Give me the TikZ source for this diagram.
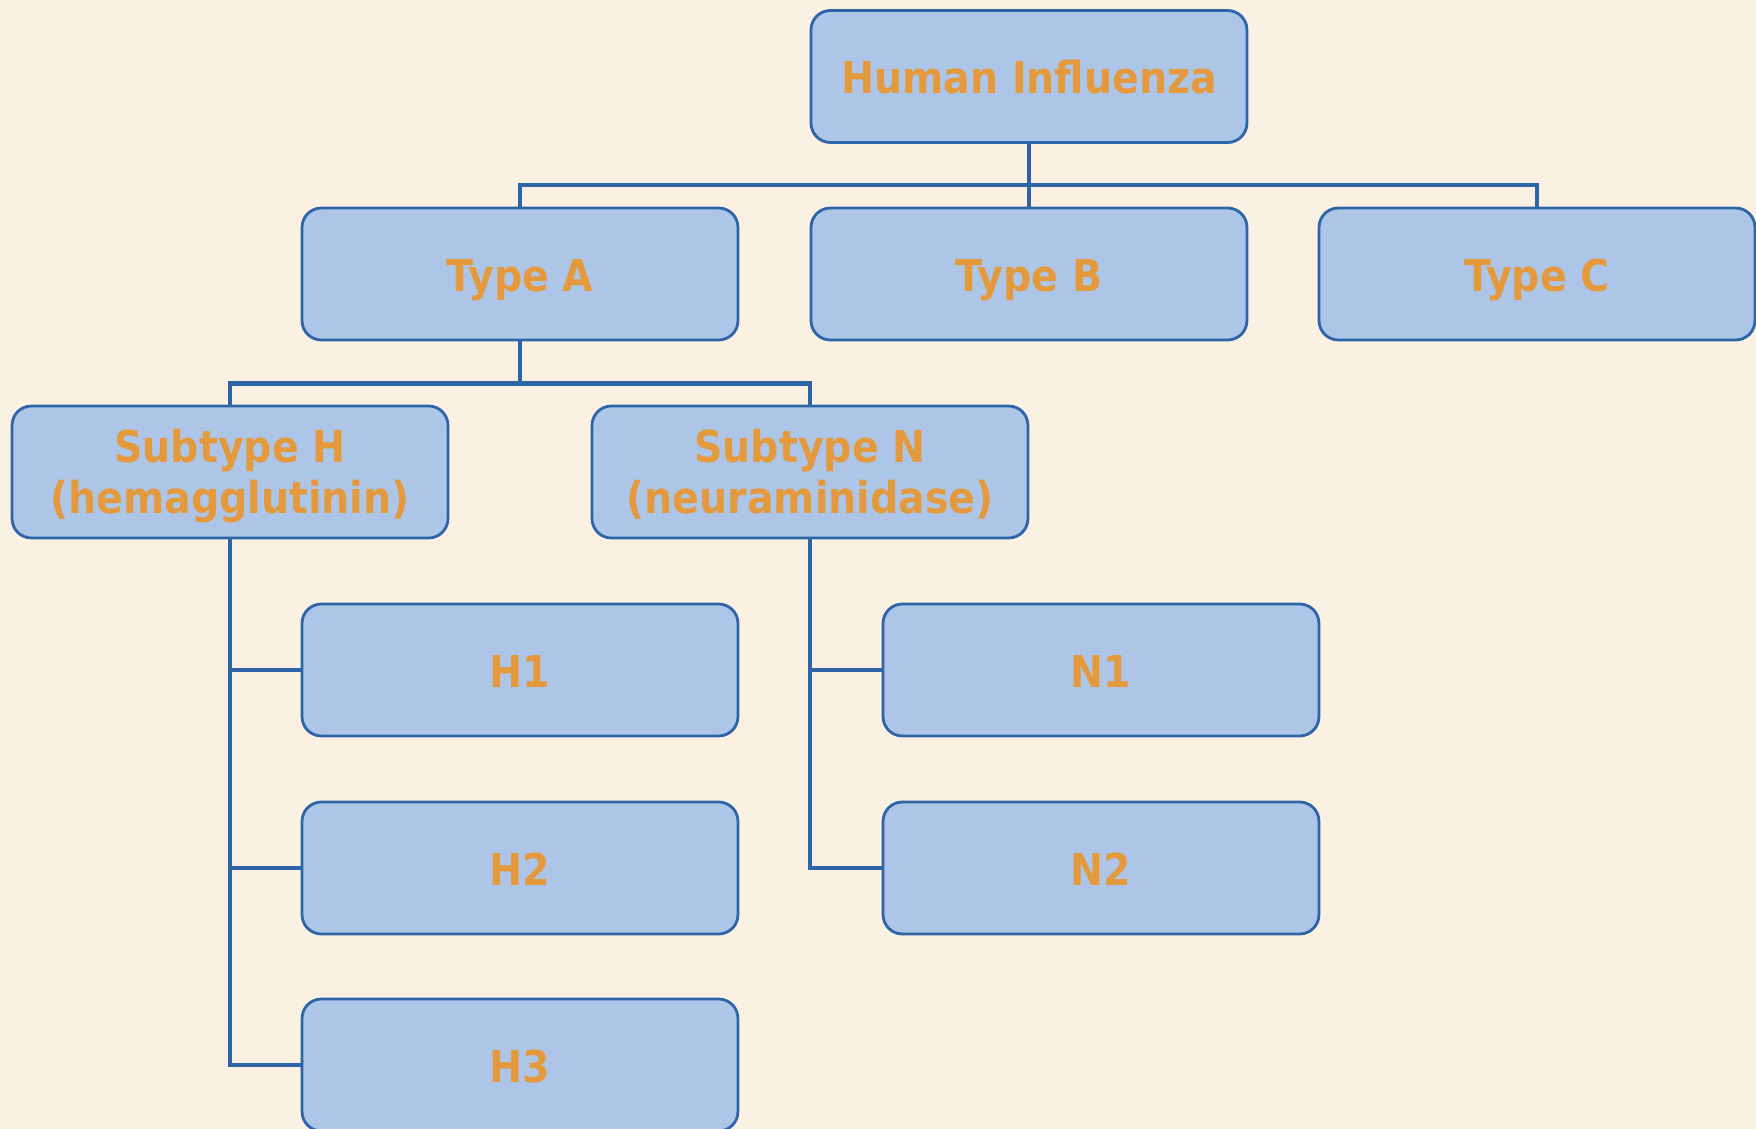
\documentclass[tikz,border=0pt]{standalone}
\usepackage{fontspec}
\setmainfont{DejaVu Sans Condensed}
\usetikzlibrary{calc}

\definecolor{bgcream}{HTML}{FBF1E3}
\definecolor{boxblue}{HTML}{ADC6E8}
\definecolor{edgeblue}{HTML}{2E64A8}
\definecolor{txtorange}{HTML}{E49A3C}

\tikzset{
  flubox/.style={draw=edgeblue,line width=1.6pt,fill=boxblue,rounded corners=11pt,
    minimum width=8.72cm,minimum height=2.64cm,align=center,text=txtorange,
    text height=21.5pt,text depth=1.6pt,
    font=\fontsize{25}{29}\selectfont\bfseries},
  twoline/.style={text height=48pt,text depth=0.6pt},
  link/.style={draw=edgeblue,line width=2.6pt}
}

\begin{document}
\begin{tikzpicture}[x=0.02cm,y=-0.02cm]

\fill[bgcream] (0,0) rectangle (1756,1129);
\useasboundingbox (0,0) rectangle (1756,1129);

\coordinate (c0) at (1029, 76.5);
\coordinate (c1) at ( 520,274);
\coordinate (c2) at (1029,274);
\coordinate (c3) at (1537,274);
\coordinate (s1) at ( 230,472);
\coordinate (s2) at ( 810,472);

\node[flubox] (hi) at (c0) {Human Influenza};
\node[flubox] (ta) at (c1) {Type A};
\node[flubox] (tb) at (c2) {Type B};
\node[flubox] (tc) at (c3) {Type C};
\node[flubox,twoline] (sh) at (s1) {Subtype H\\(hemagglutinin)};
\node[flubox,twoline] (sn) at (s2) {Subtype N\\(neuraminidase)};

\foreach \x/\y in {1/670,2/868,3/1065}{\node[flubox] (h\x) at (520,\y) {H\x};}
\foreach \x/\y in {1/670,2/868}{\node[flubox] (n\x) at (1101,\y) {N\x};}

\foreach \t in {ta,tb,tc}{\draw[link] (hi.south) -- ++(0,41) -| (\t.north);}
\foreach \t in {sh,sn}{\draw[link] (ta.south) -- ++(0,42) -| (\t.north);}

\foreach \x in {1,...,3}{\draw[link] (sh.south) |- (h\x.west);}
\foreach \x in {1,2}{\draw[link] (sn.south) |- (n\x.west);}

\end{tikzpicture}
\end{document}
